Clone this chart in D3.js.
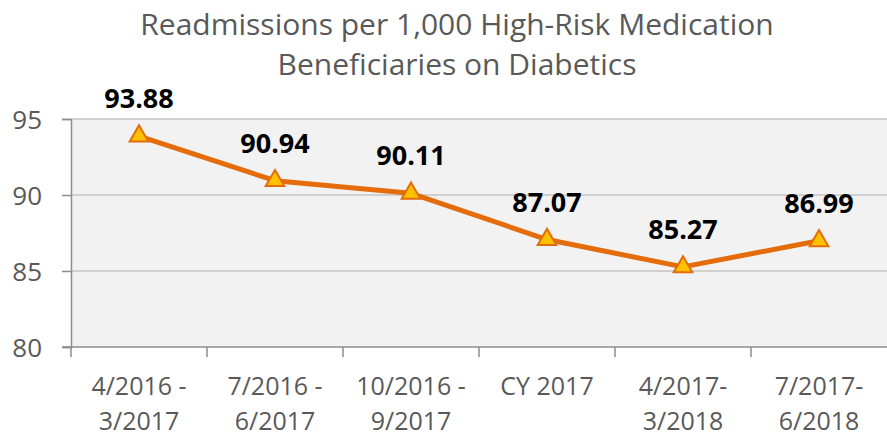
<!DOCTYPE html>
<html>
<head>
<meta charset="utf-8">
<script src="https://cdn.jsdelivr.net/npm/d3@7"></script>
<style>
  body { margin: 0; background: #fff; }
  text { font-family: "Open Sans", "DejaVu Sans", sans-serif; }
</style>
</head>
<body>
<div id="chart"></div>
<script>
var periods = ['4/2016 -|3/2017', '7/2016 -|6/2017', '10/2016 -|9/2017', 'CY 2017', '4/2017-|3/2018', '7/2017-|6/2018']
var rates = [93.88, 90.94, 90.11, 87.07, 85.27, 86.99]
var yTicks = [80, 85, 90, 95]
var titleLines = ['Readmissions per 1,000 High-Risk Medication', 'Beneficiaries on Diabetics']

var width = 887, height = 441
var margin = {top: 119, right: 0, bottom: 94, left: 71}

var svg = d3.select('#chart').append('svg').attr('width', width).attr('height', height)

var x = d3.scaleBand().domain(periods).range([margin.left, width]).padding(0)
var y = d3.scaleLinear().domain([80, 95]).range([height - margin.bottom, margin.top])

// plot background
svg.append('rect')
  .attr('x', margin.left).attr('y', margin.top)
  .attr('width', width - margin.left).attr('height', y(80) - margin.top)
  .attr('fill', '#f2f2f2')

// gridlines
svg.append('g').selectAll('line')
  .data(yTicks.filter(d => d > 80)).join('line')
  .attr('x1', margin.left).attr('x2', width)
  .attr('y1', d => y(d)).attr('y2', d => y(d))
  .attr('stroke', '#c4c4c4').attr('stroke-width', 1.5)

// y axis
var yAxis = svg.append('g').attr('transform', 'translate(' + margin.left + ',0)')
  .call(d3.axisLeft(y).tickValues(yTicks).tickSize(9).tickPadding(20))
yAxis.select('.domain').attr('stroke', '#8c8c8c').attr('stroke-width', 1.5)
yAxis.selectAll('.tick line').attr('stroke', '#8c8c8c').attr('stroke-width', 1.5)
yAxis.selectAll('text').attr('fill', '#595959').style('font-size', '26px').attr('dy', '0.35em')

// x axis
var xAxis = svg.append('g').attr('transform', 'translate(0,' + y(80) + ')')
xAxis.append('line').attr('x1', margin.left - 9).attr('x2', width)
  .attr('stroke', '#8c8c8c').attr('stroke-width', 1.5)
xAxis.selectAll('.tk').data(periods).join('line').attr('class', 'tk')
  .attr('x1', d => x(d)).attr('x2', d => x(d))
  .attr('y1', 0).attr('y2', 10)
  .attr('stroke', '#8c8c8c').attr('stroke-width', 1.5)
xAxis.selectAll('.lbl').data(periods).join('text').attr('class', 'lbl')
  .attr('text-anchor', 'middle')
  .attr('fill', '#595959')
  .style('font-size', '25px')
  .each(function(d) {
    var parts = d.split('|')
    d3.select(this).selectAll('tspan').data(parts).join('tspan')
      .attr('x', x(d) + x.bandwidth() / 2)
      .attr('y', (p, i) => 48 + i * 35)
      .text(p => p)
  })

// line
var line = d3.line().x((d, i) => x(periods[i]) + x.bandwidth() / 2).y(d => y(d))
svg.append('path').datum(rates)
  .attr('d', line)
  .attr('fill', 'none')
  .attr('stroke', '#e46c0a')
  .attr('stroke-width', 5)
  .attr('stroke-linejoin', 'round')

// triangle markers
var tri = d3.symbol().type(d3.symbolTriangle).size(150)
svg.append('g').selectAll('path')
  .data(rates).join('path')
  .attr('d', tri)
  .attr('transform', (d, i) => 'translate(' + (x(periods[i]) + x.bandwidth() / 2) + ',' + y(d) + ')')
  .attr('fill', '#ffc000')
  .attr('stroke', '#e46c0a')
  .attr('stroke-width', 2)

// value labels
svg.append('g').selectAll('text')
  .data(rates).join('text')
  .attr('x', (d, i) => x(periods[i]) + x.bandwidth() / 2)
  .attr('y', d => y(d) - 28)
  .attr('text-anchor', 'middle')
  .attr('font-weight', 'bold')
  .attr('fill', '#000')
  .style('font-size', '27px')
  .text(d => d.toFixed(2))

// title
svg.append('text')
  .attr('text-anchor', 'middle')
  .attr('fill', '#595959')
  .style('font-size', '30px')
  .selectAll('tspan').data(titleLines).join('tspan')
  .attr('x', 457)
  .attr('y', (d, i) => 35 + i * 40)
  .text(d => d)
</script>
</body>
</html>
